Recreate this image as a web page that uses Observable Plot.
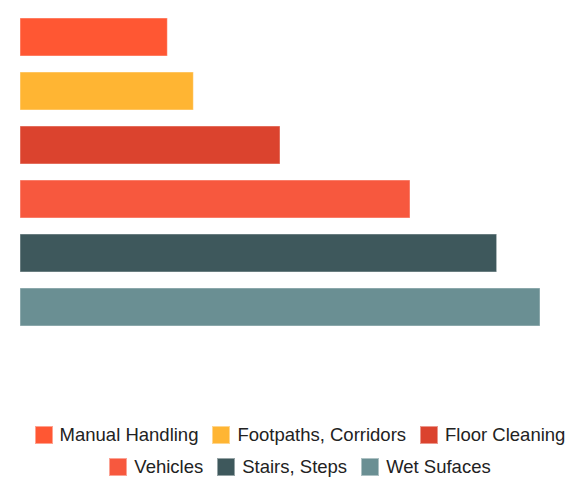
<!DOCTYPE html>
<html>
<head>
<meta charset="utf-8">
<script src="https://cdn.jsdelivr.net/npm/d3@7"></script>
<script src="https://cdn.jsdelivr.net/npm/@observablehq/plot@0.6"></script>
<style>
  html, body { margin: 0; padding: 0; background: #fff; }
  #chart svg { display: block; }
  #legend { width: 560px; padding-left: 20px; margin-top: 79px; font-family: "Liberation Sans", Arial, Helvetica, sans-serif; font-size: 18.5px; color: #222; }
  .row { display: flex; justify-content: center; align-items: center; height: 32px; }
  .item { display: flex; align-items: center; margin: 0 7px; white-space: nowrap; }
  .sw { width: 18px; height: 18px; margin-right: 7px; box-sizing: border-box; border: 1px solid rgba(255,255,255,0.45); flex: none; }
</style>
</head>
<body>
<div id="chart"></div>
<div id="legend"></div>
<script>
const categories = ["Manual Handling", "Footpaths, Corridors", "Floor Cleaning", "Vehicles", "Stairs, Steps", "Wet Sufaces"];
const values = [17, 20, 30, 45, 55, 60];
const colors = ["#FF5733", "#FFB533", "#DB432E", "#F7583E", "#3E585C", "#6A8F93"];
const legendRows = [[0, 1, 2], [3, 4, 5]];

const data = categories.map((c, i) => ({category: c, value: values[i]}));

const chart = Plot.plot({
  width: 580,
  height: 340,
  marginLeft: 20,
  marginRight: 40,
  marginTop: 9,
  marginBottom: 6,
  x: {axis: null, domain: [0, 60]},
  y: {axis: null, domain: categories, paddingInner: 0.3, paddingOuter: 0.15},
  color: {domain: categories, range: colors},
  marks: [
    Plot.barX(data, {x: "value", y: "category", fill: "category", stroke: "white", strokeOpacity: 0.45, strokeWidth: 1})
  ]
});
document.getElementById("chart").appendChild(chart);

const legend = document.getElementById("legend");
legendRows.forEach(r => {
  const row = document.createElement("div");
  row.className = "row";
  r.forEach(i => {
    const item = document.createElement("div");
    item.className = "item";
    const sw = document.createElement("span");
    sw.className = "sw";
    sw.style.background = colors[i];
    const t = document.createElement("span");
    t.textContent = categories[i];
    item.appendChild(sw);
    item.appendChild(t);
    row.appendChild(item);
  });
  legend.appendChild(row);
});
</script>
</body>
</html>
